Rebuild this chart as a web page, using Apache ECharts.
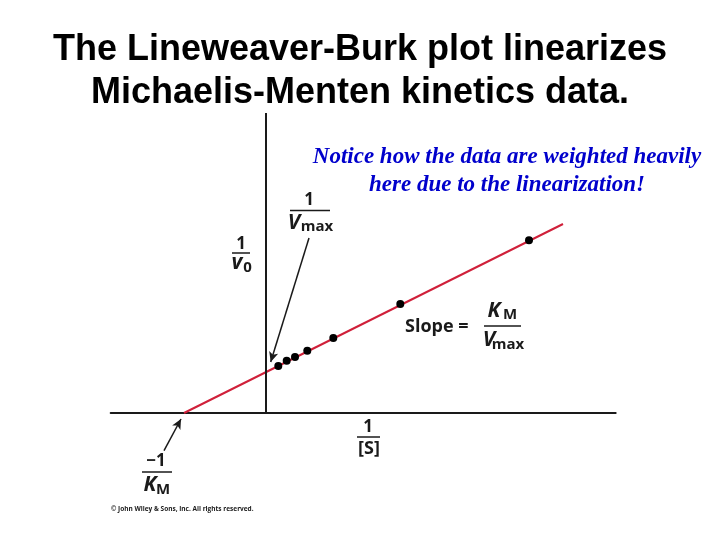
<!DOCTYPE html>
<html>
<head>
<meta charset="utf-8">
<style>
	html, body { margin: 0; padding: 0; background: #fff; }
	#chart01 { width: 720px; height: 540px; }
</style>
<script src="https://cdn.jsdelivr.net/npm/echarts@6/dist/echarts.min.js"></script>
</head>
<body>
<div id="chart01"></div>
<script>
// 1/[S] 값 (측정점)
const invS = [0.126, 0.21, 0.293, 0.416, 0.676, 1.346, 2.633];
// 1/v0 값 (측정점)
const invV0 = [0.47, 0.523, 0.56, 0.623, 0.75, 1.09, 1.727];
// 직선 (x절편 -1/KM 부터 오른쪽 끝까지)
const fitX = [-0.817, 2.973];
const fitY = [0, 1.89];
// 화살표 (시작점 -> 끝점)
const arrowVmax = [[0.433, 1.75], [0.05, 0.51]];
const arrowKm = [[-1.017, -0.377], [-0.847, -0.06]];

const LABEL_FONT = '"Open Sans", "DejaVu Sans", sans-serif';
const INK = '#1a1a1a';

function txt(text, x, y, size, opts) {
	opts = opts || {};
	return {
		type: 'text',
		x: x,
		y: y,
		style: {
			text: text,
			fill: opts.fill || INK,
			font: (opts.italic ? 'italic ' : '') + 'bold ' + size + 'px ' + (opts.family || LABEL_FONT),
			align: opts.align || 'center',
			verticalAlign: 'middle'
		}
	};
}

function bar(x1, x2, y) {
	return {
		type: 'line',
		shape: { x1: x1, y1: y, x2: x2, y2: y },
		style: { stroke: INK, lineWidth: 1.5 }
	};
}

const option = {
	backgroundColor: '#fff',
	animation: false,
	title: {
		text: 'The Lineweaver-Burk plot linearizes\nMichaelis-Menten kinetics data.',
		left: 'center',
		top: 24,
		textStyle: {
			fontFamily: '"Liberation Sans", Arial, sans-serif',
			fontWeight: 'bold',
			fontSize: 36,
			lineHeight: 43,
			color: '#000'
		}
	},
	grid: {
		left: 110.7,
		right: 104.3,
		top: 113,
		bottom: 7
	},
	xAxis: {
		type: 'value',
		min: -1.55,
		max: 3.5,
		axisLine: { show: true, onZero: true, lineStyle: { color: INK, width: 2 } },
		axisTick: { show: false },
		axisLabel: { show: false },
		splitLine: { show: false }
	},
	yAxis: {
		type: 'value',
		min: -1.2,
		max: 3,
		axisLine: { show: false },
		axisTick: { show: false },
		axisLabel: { show: false },
		splitLine: { show: false }
	},
	series: [
		{
			// 세로축 + 화살표
			type: 'line',
			data: [],
			markLine: {
				silent: true,
				animation: false,
				label: { show: false },
				data: [
					[
						{ coord: [0, 0], symbol: 'none', lineStyle: { color: INK, width: 2, type: 'solid' } },
						{ coord: [0, 3], symbol: 'none' }
					],
					[
						{ coord: arrowVmax[0], symbol: 'none', lineStyle: { color: INK, width: 1.5, type: 'solid' } },
						{ coord: arrowVmax[1], symbol: 'arrow', symbolSize: [7, 10] }
					],
					[
						{ coord: arrowKm[0], symbol: 'none', lineStyle: { color: INK, width: 1.5, type: 'solid' } },
						{ coord: arrowKm[1], symbol: 'arrow', symbolSize: [7, 10] }
					]
				]
			}
		},
		{
			name: 'fit',
			type: 'line',
			data: fitX.map((x, i) => [x, fitY[i]]),
			symbol: 'none',
			lineStyle: { color: '#d0203a', width: 2 },
			z: 2
		},
		{
			name: 'data',
			type: 'scatter',
			data: invS.map((x, i) => [x, invV0[i]]),
			symbolSize: 8,
			itemStyle: { color: '#000', opacity: 1 },
			z: 3
		}
	],
	graphic: [
		// 파란 주석
		txt('Notice how the data are weighted heavily', 507, 157, 23, { italic: true, fill: '#0000cc', family: '"Liberation Serif", "Times New Roman", serif' }),
		txt('here due to the linearization!', 507, 185, 23, { italic: true, fill: '#0000cc', family: '"Liberation Serif", "Times New Roman", serif' }),

		// 1 / Vmax
		txt('1', 309, 200, 17),
		bar(290, 330, 210.5),
		txt('V', 294, 223, 21, { italic: true }),
		txt('max', 317, 227, 15),

		// 1 / v0
		txt('1', 241, 244, 17),
		bar(232, 250, 253),
		txt('v', 237, 263, 21, { italic: true }),
		txt('0', 247.5, 268, 15),

		// Slope = KM / Vmax
		txt('Slope =', 405, 327, 18, { align: 'left' }),
		txt('K', 494, 311, 21, { italic: true }),
		txt('M', 510, 315, 15),
		bar(484, 521, 326),
		txt('V', 489, 340, 21, { italic: true }),
		txt('max', 508, 345, 15),

		// 1 / [S]
		txt('1', 368, 427, 17),
		bar(357, 380, 437),
		txt('[S]', 369, 449, 18),

		// -1 / KM
		txt('\u22121', 156, 461, 17),
		bar(142, 172, 472),
		txt('K', 150, 485, 21, { italic: true }),
		txt('M', 163, 490, 15),

		// copyright
		txt('\u00a9 John Wiley & Sons, Inc. All rights reserved.', 111, 509, 6.5, { align: 'left' })
	]
};

const myChart = echarts.init(document.getElementById('chart01'), null, { renderer: 'canvas' });
myChart.setOption(option);

window.addEventListener('resize', myChart.resize);
</script>
</body>
</html>
